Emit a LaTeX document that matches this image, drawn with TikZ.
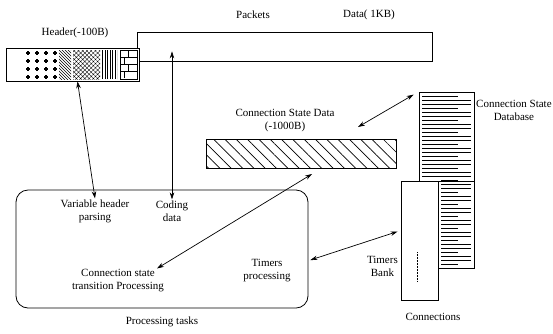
\documentclass[tikz,border=0pt]{standalone}
\usepackage{fontspec}
\setmainfont{Liberation Serif}
\usetikzlibrary{positioning,arrows.meta,patterns,patterns.meta}

\begin{document}
\begin{tikzpicture}[x=1pt, y=-1pt,
    txt/.style={align=center, inner sep=1pt, font=\fontsize{11}{13}\selectfont},
    box/.style={rectangle, draw, line width=0.8pt, inner sep=0pt},
    link/.style={{Stealth[length=7pt,width=4.5pt]}-{Stealth[length=7pt,width=4.5pt]}, line width=0.7pt},
    hatch/.style={pattern={Lines[angle=-45,distance=8pt,line width=0.7pt]}}
]
\useasboundingbox (0,0) rectangle (553,333);

% packet: header and data
\node (packets) [txt] at (253,15) {Packets};
\node (hdrlbl) [txt] at (75,33) {Header(-100B)};
\node (datalbl) [txt] at (369,15) {Data( 1KB)};
\node (data) [box, minimum width=295pt, minimum height=29pt] at (284.5,46.5) {};
\node (header) [box, fill=white, minimum width=133pt, minimum height=33pt] at (72.5,64.5) {};
\foreach \i in {0,...,3}
    \foreach \j in {0,...,3}
        \draw[line width=1.4pt] (28+9*\i-2,53+8*\j) -- (28+9*\i+2,53+8*\j)
            (28+9*\i,53+8*\j-2) -- (28+9*\i,53+8*\j+2);
\fill[pattern=north west lines] (59,50) rectangle (71,79);
\fill[pattern={Hatch[angle=45,distance=3pt,line width=0.4pt]}] (73,50) rectangle (100,79);
\fill[pattern={Lines[angle=90,distance=2.5pt,line width=0.5pt]}] (102,50) rectangle (117,79);
% bricks
\draw[line width=0.6pt] (120,50) rectangle (137,79);
\foreach \y in {57,64,71}
    \draw[line width=0.6pt] (120,\y) -- (137,\y);
\foreach \y/\x in {50/128,57/124,64/128,71/124}
    \draw[line width=0.6pt] (\x,\y) -- (\x,\y+7);

% connection state data
\node (csdlbl) [txt] at (285,121) {Connection State Data\\(-1000B)};
\node (csd) [box, hatch, minimum width=190pt, minimum height=29pt] at (301,153.5) {};
\coordinate (csdin) at (312,174);
\coordinate (csdout) at (358,127);

% connections: database and timers
\node (db) [box, minimum width=55pt, minimum height=89pt] at (446.5,136.5) {};
\node (dblow) [box, minimum width=36pt, minimum height=87pt] at (456,224.5) {};
\foreach \y in {96,100,...,264} {
    \pgfmathsetmacro\xl{\y<180 ? 422 : 441}
    \pgfmathsetmacro\xr{mod(\y,12)==0 ? 458 : 471}
    \draw[line width=0.5pt] (\xl,\y) -- (\xr,\y);
}
\node (bank) [box, fill=white, minimum width=37pt, minimum height=119pt] at (419.5,240.5) {};
\draw[densely dotted, line width=0.5pt] (417,252) -- (417,282);
\node (dblbl) [txt, anchor=west, inner sep=0pt] at (476,110) {Connection State\\Database};
\node (banklbl) [txt, anchor=east] at (399,266) {Timers\\Bank};
\node (conns) [txt] at (433,317) {Connections};

% processing tasks
\node (tasks) [box, rounded corners=12pt, minimum width=292pt, minimum height=118pt] at (162,249) {};
\node (parse) [txt] at (95,211) {Variable header\\parsing};
\node (coding) [txt] at (172,211) {Coding\\data};
\node (trans) [txt] at (118,281) {Connection state\\transition Processing};
\node (timersp) [txt] at (267,271) {Timers\\processing};
\node (procs) [txt, below=7pt of tasks] {Processing tasks};

% links
\draw[link] ([xshift=5pt]header.south) -- (parse.north);
\draw[link] (coding.north) -- ([yshift=10pt]coding.north |- data.south);
\draw[link] ([xshift=39pt]trans.north) -- (csdin);
\draw[link] ([shift={(2,11)}]tasks.east) -- ([shift={(-3,-9)}]bank.west);
\draw[link] (csdout) -- ([shift={(-5,3)}]db.north west);
\end{tikzpicture}
\end{document}
